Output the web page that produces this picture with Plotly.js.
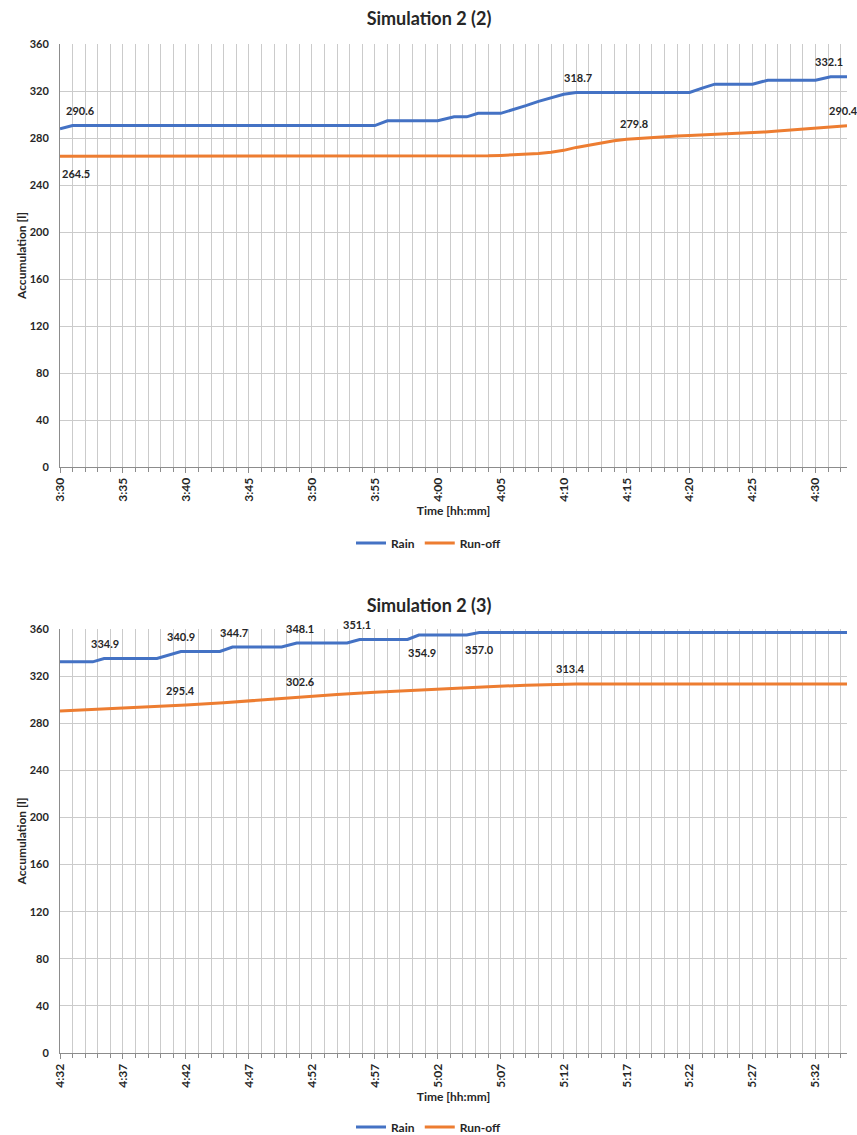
<!DOCTYPE html>
<html>
<head>
<meta charset="utf-8">
<script src="https://cdn.plot.ly/plotly-3.0.1.min.js"></script>
<style>
  html, body { margin: 0; padding: 0; background: #ffffff; }
  #chart1 { width: 857px; height: 552px; }
  #chart2 { width: 857px; height: 583px; }
</style>
</head>
<body>
<div id="chart1"></div>
<div id="chart2"></div>
<script>
// ---------- DATA: Simulation 2 (2) ----------
const rainTopTimes = ['3:30','3:31','3:55','3:56','4:00','4:01:18','4:02:18','4:03:12','4:05',
  '4:06','4:07','4:08','4:09','4:10','4:11','4:20','4:21','4:22','4:25','4:26:12','4:30','4:31:12','4:32:30'];
const rainTopValues = [287.8, 290.6, 290.6, 294.7, 294.7, 298.0, 298.0, 301.0, 301.0,
  304.0, 307.6, 311.2, 314.4, 317.2, 318.7, 318.7, 322.5, 325.8, 325.8, 329.2, 329.2, 332.1, 332.1];

const runoffTopTimes = ['3:30','4:03','4:04','4:05','4:06','4:07','4:08','4:09','4:10','4:11','4:12',
  '4:13','4:14','4:15','4:16','4:17','4:18','4:19','4:20','4:21','4:22','4:23','4:24','4:25','4:26',
  '4:27','4:28','4:29','4:30','4:31','4:32','4:32:30'];
const runoffTopValues = [264.5, 264.5, 264.8, 265.2, 265.6, 266.0, 266.8, 267.8, 269.5, 272.0, 274.0,
  275.9, 277.6, 279.0, 279.8, 280.6, 281.3, 281.8, 282.2, 282.6, 283.0, 283.4, 283.8, 284.4, 285.2,
  286.0, 286.7, 287.4, 288.2, 289.0, 289.8, 290.4];

const tickLabelsTop = ['3:30','3:35','3:40','3:45','3:50','3:55','4:00','4:05','4:10','4:15','4:20','4:25','4:30'];

const labelTopTimes  = ['3:31:36','3:31:15','4:11:06','4:15:36','4:31:06','4:32:12'];
const labelTopValues = [290.6, 264.5, 318.7, 279.8, 332.1, 290.4];

// ---------- DATA: Simulation 2 (3) ----------
const rainBotTimes = ['4:32','4:34:36','4:35:30','4:39:42','4:41:36','4:44:42','4:45:42','4:49:36',
  '4:50:48','4:54:48','4:55:48','4:59:36','5:00:30','5:04:18','5:05:18','5:34:30'];
const rainBotValues = [332.1, 332.1, 334.9, 334.9, 340.9, 340.9, 344.7, 344.7,
  348.1, 348.1, 351.1, 351.1, 354.9, 354.9, 357.0, 357.0];

const runoffBotTimes = ['4:32','4:35','4:38','4:41','4:42','4:45','4:48','4:51','4:54','4:57','5:00',
  '5:03','5:06','5:09','5:12','5:13','5:34:30'];
const runoffBotValues = [290.4, 291.8, 293.3, 294.9, 295.4, 297.4, 299.8, 302.6, 304.4, 306.2, 308.0,
  309.6, 311.0, 312.3, 313.2, 313.4, 313.4];

const tickLabelsBot = ['4:32','4:37','4:42','4:47','4:52','4:57','5:02','5:07','5:12','5:17','5:22','5:27','5:32'];

const labelBotTimes  = ['4:35:36','4:41:36','4:45:48','4:51:04','4:55:36','5:00:45','5:05:18','4:41:36','4:51:04','5:12:33'];
const labelBotValues = [334.9, 340.9, 344.7, 348.1, 351.1, 354.9, 357.0, 295.4, 302.6, 313.4];

// ---------- helpers / styles ----------
function toMin(s) {
  const p = s.split(':').map(Number);
  return p[0] * 60 + p[1] + (p[2] || 0) / 60;
}
const FONT = 'Lato, "Open Sans", "DejaVu Sans", sans-serif';
const TXT = '#262626';
const BLUE = '#4472C4';
const ORANGE = '#ED7D31';
const GRID = '#cbcbcb';
const AXIS = '#8c8c8c';

// label placement (style): +1 above the line, -1 below
const labelTopPlace = [1, -1, 1, 1, 1, 1];
const labelBotPlace = [1, 1, 1, 1, 1, -1, -1, 1, 1, 1];

function makeChart(div, title, rainT, rainV, runT, runV, ticks, labT, labV, labP, m, startLabel, xEnd, titleY, legendY) {
  const traces = [
    { x: rainT.map(toMin), y: rainV, type: 'scatter', mode: 'lines', name: 'Rain',
      line: { color: BLUE, width: 3 } },
    { x: runT.map(toMin), y: runV, type: 'scatter', mode: 'lines', name: 'Run-off',
      line: { color: ORANGE, width: 3 } }
  ];
  const annotations = labT.map((t, i) => ({
    x: toMin(t), y: labV[i], xref: 'x', yref: 'y',
    text: '<b>' + labV[i].toFixed(1) + '</b>',
    showarrow: false, xanchor: 'center', yanchor: 'middle',
    yshift: labP[i] > 0 ? 15 : -17,
    font: { family: FONT, size: 11, color: TXT }
  }));
  const x0 = toMin(startLabel);
  const layout = {
    width: 857, height: m.h,
    margin: { l: 60, r: 10, t: m.t, b: m.b, pad: 0 },
    paper_bgcolor: '#ffffff', plot_bgcolor: '#ffffff',
    font: { family: FONT, color: TXT },
    title: { text: '<b>' + title + '</b>', font: { family: FONT, size: 18, color: TXT },
      xref: 'container', x: 429 / 857, xanchor: 'center', yref: 'container', y: titleY, yanchor: 'middle' },
    showlegend: true,
    legend: { orientation: 'h', xref: 'container', x: 0.5, xanchor: 'center',
      yref: 'container', y: legendY, yanchor: 'middle',
      font: { family: FONT, size: 12, color: TXT, weight: 'bold' }, itemwidth: 30,
      tracegroupgap: 0 },
    xaxis: {
      range: [x0, xEnd], tickmode: 'array',
      tickvals: ticks.map(toMin), ticktext: ticks.map(s => '<b>' + s + '</b>'),
      tickangle: -90, tickfont: { family: FONT, size: 12, color: TXT },
      showgrid: true, gridcolor: GRID, gridwidth: 1,
      ticks: 'outside', ticklen: 5, tickcolor: AXIS,
      minor: { tickmode: 'linear', tick0: x0, dtick: 1, showgrid: true, gridcolor: GRID, gridwidth: 1,
        ticks: 'outside', ticklen: 4, tickcolor: AXIS },
      showline: true, linecolor: AXIS, linewidth: 1, zeroline: false,
      title: { text: '<b>Time [hh:mm]</b>', font: { family: FONT, size: 12, color: TXT }, standoff: 5 },
      automargin: false, fixedrange: true
    },
    yaxis: {
      range: [0, 360], tickmode: 'linear', tick0: 0, dtick: 40,
      tickfont: { family: FONT, size: 11, color: TXT, weight: 'bold' },
      ticklabelstandoff: 8,
      showgrid: true, gridcolor: GRID, gridwidth: 1,
      showline: true, linecolor: AXIS, linewidth: 1, zeroline: false, ticks: '',
      title: { text: '<b>Accumulation [l]</b>', font: { family: FONT, size: 12, color: TXT }, standoff: 0 },
      automargin: false, fixedrange: true
    },
    annotations: annotations
  };
  Plotly.newPlot(div, traces, layout, { staticPlot: true, displayModeBar: false });
}

makeChart('chart1', 'Simulation 2 (2)', rainTopTimes, rainTopValues, runoffTopTimes, runoffTopValues,
  tickLabelsTop, labelTopTimes, labelTopValues, labelTopPlace,
  { h: 552, t: 44, b: 85 }, '3:30', toMin('4:32:30'), 1 - 19 / 552, 1 - 543 / 552);

makeChart('chart2', 'Simulation 2 (3)', rainBotTimes, rainBotValues, runoffBotTimes, runoffBotValues,
  tickLabelsBot, labelBotTimes, labelBotValues, labelBotPlace,
  { h: 583, t: 77, b: 82 }, '4:32', toMin('5:34:30'), 1 - 53.7 / 583, 1 - 575 / 583);
</script>
</body>
</html>
